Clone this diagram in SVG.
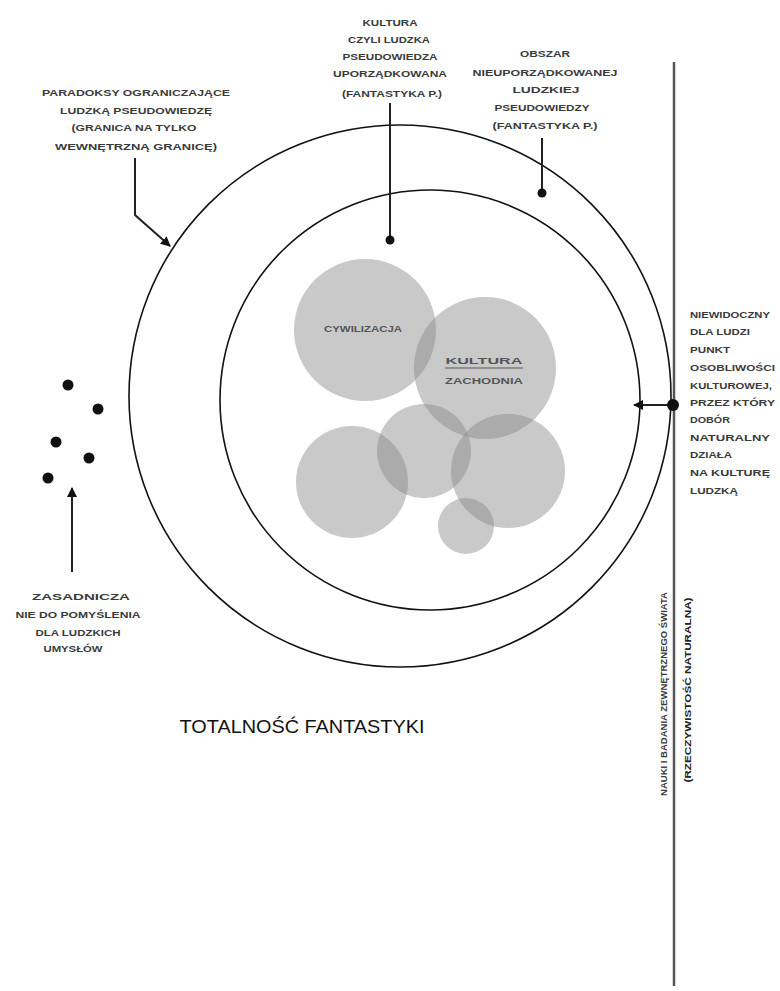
<svg xmlns="http://www.w3.org/2000/svg" width="780" height="991" viewBox="0 0 780 991">
<style>
.t{font-family:"Liberation Sans","DejaVu Sans",sans-serif;font-size:9.5px;fill:#3a3a3a;font-weight:bold}
.c{text-anchor:middle}
.ln{fill:none;stroke:#111;stroke-width:1.6}
.ptr{fill:none;stroke:#222;stroke-width:2}
.blob{fill:#888;fill-opacity:0.45}
.dot{fill:#111}
</style>
<defs>
<marker id="ah" viewBox="0 0 10 10" refX="9" refY="5" markerWidth="5" markerHeight="5" orient="auto-start-reverse">
<path d="M0,0 L10,5 L0,10 z" fill="#111"/>
</marker>
</defs>
<rect width="780" height="991" fill="#fff"/>

<g id="outer-circle"><circle class="ln" cx="400" cy="396" r="271"/></g>
<g id="inner-circle"><circle class="ln" cx="430" cy="400" r="210"/></g>

<g id="cultures">
<circle class="blob" cx="365" cy="330" r="71"/>
<circle class="blob" cx="485" cy="368" r="71"/>
<circle class="blob" cx="424" cy="451" r="47"/>
<circle class="blob" cx="352" cy="482" r="56"/>
<circle class="blob" cx="508" cy="471" r="57"/>
<circle class="blob" cx="466" cy="526" r="28"/>
<text class="t c" x="363" y="332" font-size="9" textLength="78" lengthAdjust="spacingAndGlyphs" style="fill:#555">CYWILIZACJA</text>
<text class="t c" x="484" y="364" font-size="11" textLength="77" lengthAdjust="spacingAndGlyphs" style="fill:#555">KULTURA</text>
<line x1="445" y1="368" x2="523" y2="368" stroke="#555" stroke-width="1.2"/>
<text class="t c" x="484" y="384" font-size="11" textLength="78" lengthAdjust="spacingAndGlyphs" style="fill:#555">ZACHODNIA</text>
</g>

<g id="axis"><line x1="674" y1="62" x2="674" y2="986" stroke="#555" stroke-width="2.5"/></g>

<g id="connectors">
<polyline class="ptr" points="135,158 135,215 170,246" marker-end="url(#ah)"/>
<line class="ptr" x1="390" y1="103" x2="390" y2="240"/>
<circle class="dot" cx="390" cy="240" r="4.5"/>
<line class="ptr" x1="542" y1="138" x2="542" y2="192"/>
<circle class="dot" cx="542" cy="193" r="4.5"/>
<line class="ptr" x1="673" y1="405" x2="634" y2="405" marker-end="url(#ah)"/>
<circle class="dot" cx="673" cy="405" r="6"/>
<line class="ptr" x1="72" y1="572" x2="72" y2="488" marker-end="url(#ah)"/>
</g>

<g id="dots">
<circle class="dot" cx="68" cy="385" r="5.5"/>
<circle class="dot" cx="98" cy="409" r="5.5"/>
<circle class="dot" cx="56" cy="442" r="5.5"/>
<circle class="dot" cx="89" cy="458" r="5.5"/>
<circle class="dot" cx="48" cy="478" r="5.5"/>
</g>

<g id="label-paradoksy">
<text class="t c" x="136" y="96" textLength="188" lengthAdjust="spacingAndGlyphs">PARADOKSY OGRANICZAJĄCE</text>
<text class="t c" x="136" y="114" textLength="152" lengthAdjust="spacingAndGlyphs">LUDZKĄ PSEUDOWIEDZĘ</text>
<text class="t c" x="134" y="131" textLength="125" lengthAdjust="spacingAndGlyphs">(GRANICA NA TYLKO</text>
<text class="t c" x="136" y="150" textLength="162" lengthAdjust="spacingAndGlyphs">WEWNĘTRZNĄ GRANICĘ)</text>
</g>

<g id="label-kultura">
<text class="t c" x="390" y="26" textLength="55" lengthAdjust="spacingAndGlyphs">KULTURA</text>
<text class="t c" x="389" y="43" textLength="82" lengthAdjust="spacingAndGlyphs">CZYLI LUDZKA</text>
<text class="t c" x="390" y="60" textLength="95" lengthAdjust="spacingAndGlyphs">PSEUDOWIEDZA</text>
<text class="t c" x="390" y="77" textLength="114" lengthAdjust="spacingAndGlyphs">UPORZĄDKOWANA</text>
<text class="t c" x="392" y="97" textLength="100" lengthAdjust="spacingAndGlyphs">(FANTASTYKA P.)</text>
</g>

<g id="label-obszar">
<text class="t c" x="545" y="57" textLength="50" lengthAdjust="spacingAndGlyphs">OBSZAR</text>
<text class="t c" x="545" y="76" textLength="145" lengthAdjust="spacingAndGlyphs">NIEUPORZĄDKOWANEJ</text>
<text class="t c" x="546" y="93" textLength="67" lengthAdjust="spacingAndGlyphs">LUDZKIEJ</text>
<text class="t c" x="542" y="111" textLength="95" lengthAdjust="spacingAndGlyphs">PSEUDOWIEDZY</text>
<text class="t c" x="545" y="129" textLength="105" lengthAdjust="spacingAndGlyphs">(FANTASTYKA P.)</text>
</g>

<g id="label-punkt">
<text class="t" x="690" y="318" textLength="80" lengthAdjust="spacingAndGlyphs">NIEWIDOCZNY</text>
<text class="t" x="690" y="335" textLength="60" lengthAdjust="spacingAndGlyphs">DLA LUDZI</text>
<text class="t" x="690" y="353" textLength="40" lengthAdjust="spacingAndGlyphs">PUNKT</text>
<text class="t" x="690" y="371" textLength="85" lengthAdjust="spacingAndGlyphs">OSOBLIWOŚCI</text>
<text class="t" x="690" y="389" textLength="82" lengthAdjust="spacingAndGlyphs">KULTUROWEJ,</text>
<text class="t" x="690" y="406" textLength="85" lengthAdjust="spacingAndGlyphs">PRZEZ KTÓRY</text>
<text class="t" x="690" y="423" textLength="40" lengthAdjust="spacingAndGlyphs">DOBÓR</text>
<text class="t" x="690" y="441" textLength="80" lengthAdjust="spacingAndGlyphs">NATURALNY</text>
<text class="t" x="690" y="458" textLength="42" lengthAdjust="spacingAndGlyphs">DZIAŁA</text>
<text class="t" x="690" y="476" textLength="80" lengthAdjust="spacingAndGlyphs">NA KULTURĘ</text>
<text class="t" x="690" y="494" textLength="48" lengthAdjust="spacingAndGlyphs">LUDZKĄ</text>
</g>

<g id="label-zasadnicza">
<text class="t c" x="81" y="600" textLength="98" lengthAdjust="spacingAndGlyphs">ZASADNICZA</text>
<text class="t c" x="78" y="618" textLength="125" lengthAdjust="spacingAndGlyphs">NIE DO POMYŚLENIA</text>
<text class="t c" x="78" y="636" textLength="85" lengthAdjust="spacingAndGlyphs">DLA LUDZKICH</text>
<text class="t c" x="73" y="652" textLength="59" lengthAdjust="spacingAndGlyphs">UMYSŁÓW</text>
</g>

<g id="label-axis">
<text class="t c" transform="translate(667,694) rotate(-90)" textLength="204" lengthAdjust="spacingAndGlyphs">NAUKI I BADANIA ZEWNĘTRZNEGO ŚWIATA</text>
<text class="t c" transform="translate(691,690) rotate(-90)" textLength="185" lengthAdjust="spacingAndGlyphs" style="fill:#222">(RZECZYWISTOŚĆ NATURALNA)</text>
</g>

<g id="title">
<text x="302" y="733" text-anchor="middle" font-family="Liberation Sans, DejaVu Sans, sans-serif" font-size="19" fill="#111" textLength="245" lengthAdjust="spacingAndGlyphs">TOTALNOŚĆ FANTASTYKI</text>
</g>
</svg>
